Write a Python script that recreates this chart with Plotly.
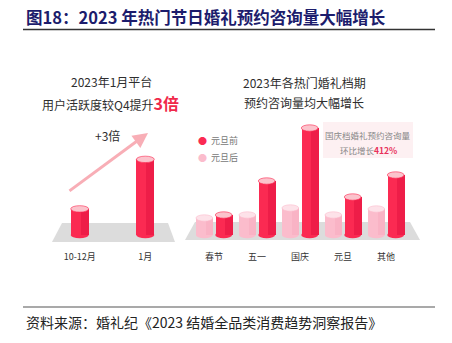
import plotly.graph_objects as go

W, H = 452, 343

# ---------------- data ----------------
left_cats = ["10-12月", "1月"]
left_vals = [0.95, 2.75]

right_cats = ["春节", "五一", "国庆", "元旦", "其他"]
before_vals = [20, 54, 107, 38, 60]   # 元旦前 (red)
after_vals = [17, 20, 27, 20, 26]     # 元旦后 (pink)

RED = "#fb2a52"
RED_DARK = "#e3123f"
RED_TOP = "#fbc3cc"
PINK = "#fbbccc"
PINK_DARK = "#f7a9bd"
PINK_TOP = "#fde2e9"


def px(x):
    return x / W


def py(y):
    return 1 - y / H


fig = go.Figure()

# ---------- axis geometry ----------
base_px = 235      # pixel of value 0
dom_bot, dom_top = 241, 118
sL = 27.5          # px per unit (left)
sR = 1.0           # px per unit (right)

# ---------- left bars ----------
lx = list(range(len(left_cats)))
lw = 0.274
fig.add_trace(go.Bar(x=lx, y=left_vals, width=lw, offset=-lw / 2,
                     marker=dict(color=RED, line=dict(width=0)),
                     xaxis="x", yaxis="y", showlegend=False, hoverinfo="skip"))
fig.add_trace(go.Bar(x=lx, y=left_vals, width=lw * 0.45, offset=lw * 0.05,
                     marker=dict(color=RED_DARK, opacity=0.55, line=dict(width=0)),
                     xaxis="x", yaxis="y", showlegend=False, hoverinfo="skip"))

# ---------- right bars ----------
rx = list(range(len(right_cats)))
rw = 0.39
off_p, off_r = -0.42, 0.03
fig.add_trace(go.Bar(x=rx, y=after_vals, width=rw, offset=off_p, name="元旦后",
                     marker=dict(color=PINK, line=dict(width=0)),
                     xaxis="x2", yaxis="y2", showlegend=False, hoverinfo="skip"))
fig.add_trace(go.Bar(x=rx, y=after_vals, width=rw * 0.45, offset=off_p + rw * 0.55,
                     marker=dict(color=PINK_DARK, opacity=0.5, line=dict(width=0)),
                     xaxis="x2", yaxis="y2", showlegend=False, hoverinfo="skip"))
fig.add_trace(go.Bar(x=rx, y=before_vals, width=rw, offset=off_r, name="元旦前",
                     marker=dict(color=RED, line=dict(width=0)),
                     xaxis="x2", yaxis="y2", showlegend=False, hoverinfo="skip"))
fig.add_trace(go.Bar(x=rx, y=before_vals, width=rw * 0.45, offset=off_r + rw * 0.55,
                     marker=dict(color=RED_DARK, opacity=0.55, line=dict(width=0)),
                     xaxis="x2", yaxis="y2", showlegend=False, hoverinfo="skip"))

shapes = []

# floors (decorative, paper coords)
for pts in ([(62, 223), (168, 223), (175, 242), (52, 242)],
            [(195, 222), (410, 222), (420, 240), (185, 240)]):
    path = "M " + " L ".join(f"{px(a)},{py(b)}" for a, b in pts) + " Z"
    shapes.append(dict(type="path", xref="paper", yref="paper", path=path,
                       fillcolor="#dcdcdc", line=dict(width=0), layer="below"))

# cylinder caps computed from data
eh_px = 3.2


def caps(xc, v, w, xr, yr, s, body, top):
    eh = eh_px / s
    shapes.append(dict(type="circle", xref=xr, yref=yr, x0=xc - w / 2, x1=xc + w / 2,
                       y0=-eh, y1=eh, fillcolor=body, line=dict(width=0), layer="below"))
    shapes.append(dict(type="circle", xref=xr, yref=yr, x0=xc - w / 2, x1=xc + w / 2,
                       y0=v - eh, y1=v + eh, fillcolor=top,
                       line=dict(width=0.6, color=body), layer="above"))


for i, v in zip(lx, left_vals):
    caps(i, v, lw, "x", "y", sL, RED, RED_TOP)
for i, v in zip(rx, after_vals):
    caps(i + off_p + rw / 2, v, rw, "x2", "y2", sR, PINK, PINK_TOP)
for i, v in zip(rx, before_vals):
    caps(i + off_r + rw / 2, v, rw, "x2", "y2", sR, RED, RED_TOP)

# title rule lines
shapes.append(dict(type="line", xref="paper", yref="paper", x0=px(23), x1=px(435),
                   y0=py(29.5), y1=py(29.5), line=dict(color="#333333", width=1.5)))
shapes.append(dict(type="line", xref="paper", yref="paper", x0=px(23), x1=px(435),
                   y0=py(307), y1=py(307), line=dict(color="#555555", width=1.2)))

# annotation box
shapes.append(dict(type="rect", xref="paper", yref="paper", x0=px(323), x1=px(413),
                   y0=py(158), y1=py(122), fillcolor="#fdf0f2",
                   line=dict(width=0), layer="below"))

FONT = "Noto Sans CJK SC"
ann = []


def txt(x, y, t, size, color="#333333", xanchor="center", bold=False, family=FONT):
    if bold:
        t = f"<b>{t}</b>"
    ann.append(dict(x=px(x), y=py(y), xref="paper", yref="paper", text=t,
                    showarrow=False, xanchor=xanchor, yanchor="middle",
                    font=dict(size=size, color=color, family=family)))


txt(24, 17, "图18：2023 年热门节日婚礼预约咨询量大幅增长", 16.5, "#1c1c6c", "left", True)
txt(24, 322, "资料来源：婚礼纪《2023 结婚全品类消费趋势洞察报告》", 14, "#222222", "left")

txt(111, 82, "2023年1月平台", 12, "#2e2e2e")
txt(110, 103, "用户活跃度较Q4提升<span style='color:#f0284a;font-size:16px'><b>3倍</b></span>", 12, "#2e2e2e")
txt(107, 135, "+3倍", 12, "#2e2e2e")

txt(304, 83, "2023年各热门婚礼档期", 12, "#2e2e2e")
txt(304, 103, "预约咨询量均大幅增长", 12, "#2e2e2e")

txt(196, 140, f"<span style='color:{RED}'>●</span>  元旦前", 9, "#777777", "left")
txt(196, 157, f"<span style='color:{PINK}'>●</span>  元旦后", 9, "#777777", "left")

txt(368, 135, "国庆档婚礼预约咨询量", 8.5, "#888888")
txt(368, 150, "环比增长<b><span style='color:#e8305a'>412%</span></b>", 8.5, "#888888")

# arrow
ann.append(dict(x=px(148), y=py(133), ax=68 - 148, ay=192 - 133,
                xref="paper", yref="paper", axref="pixel", ayref="pixel",
                showarrow=True, arrowhead=2, arrowsize=1, arrowwidth=3,
                arrowcolor="rgba(246,140,152,0.7)", text=""))

fig.update_layout(
    width=W, height=H, margin=dict(l=0, r=0, t=0, b=0),
    paper_bgcolor="white", plot_bgcolor="rgba(0,0,0,0)",
    barmode="overlay", bargap=0,
    shapes=shapes, annotations=ann,
    font=dict(family=FONT),
    xaxis=dict(domain=[px(60), px(165)], range=[-0.3, 1.3], tickvals=lx, ticktext=left_cats,
               showgrid=False, zeroline=False, showline=False, ticks="",
               tickfont=dict(size=9, color="#333333", family=FONT), ticklabelstandoff=9),
    yaxis=dict(domain=[py(dom_bot), py(dom_top)],
               range=[-(dom_bot - base_px) / sL, (base_px - dom_top) / sL],
               visible=False, fixedrange=True),
    xaxis2=dict(domain=[px(192.5), px(407.5)], range=[-0.5, 4.5], tickvals=rx, ticktext=right_cats,
                showgrid=False, zeroline=False, showline=False, ticks="",
                tickfont=dict(size=9, color="#333333", family=FONT), ticklabelstandoff=9,
                anchor="y2"),
    yaxis2=dict(domain=[py(dom_bot), py(dom_top)],
                range=[-(dom_bot - base_px) / sR, (base_px - dom_top) / sR],
                visible=False, anchor="x2"),
)
fig.update_xaxes(tickprefix="<b>", ticksuffix="</b>")

fig.write_html("out.html")
